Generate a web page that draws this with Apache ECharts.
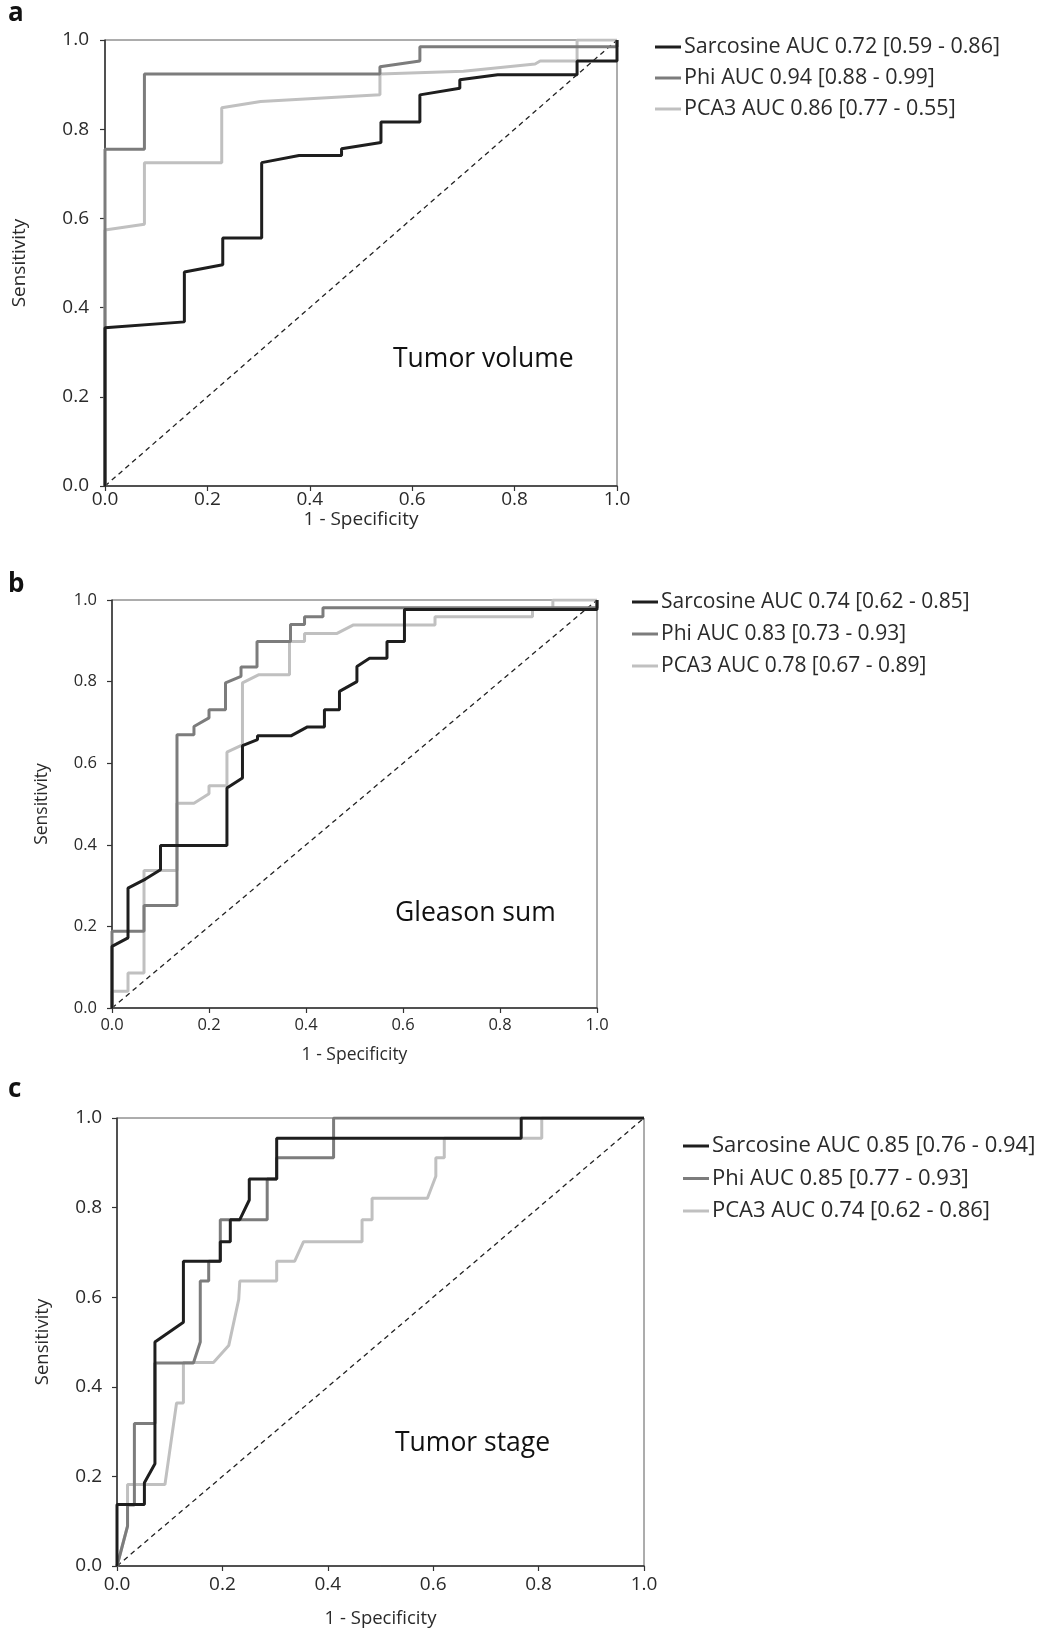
<!DOCTYPE html>
<html>
<head>
<meta charset="utf-8">
<script src="https://cdn.jsdelivr.net/npm/echarts@6/dist/echarts.min.js"></script>
<style>
  html, body { margin: 0; padding: 0; background: #fff; }
  #chart { width: 1048px; height: 1631px; }
</style>
</head>
<body>
<div id="chart"></div>
<script>
// tick labels shared by all axes
const tickLabels = ['0.0', '0.2', '0.4', '0.6', '0.8', '1.0']
const diagonal = [[0, 0], [1, 1]]

// a - Tumor volume
const legendA = ['Sarcosine AUC 0.72 [0.59 - 0.86]', 'Phi AUC 0.94 [0.88 - 0.99]', 'PCA3 AUC 0.86 [0.77 - 0.55]']
const sarcosineA = [[0, 0], [0, 0.355], [0.155, 0.368], [0.155, 0.48], [0.23, 0.496], [0.23, 0.556], [0.306, 0.556], [0.306, 0.725], [0.379, 0.741], [0.462, 0.741], [0.462, 0.756], [0.539, 0.77], [0.539, 0.816], [0.615, 0.816], [0.615, 0.877], [0.693, 0.892], [0.693, 0.911], [0.767, 0.922], [0.922, 0.922], [0.922, 0.953], [1, 0.953], [1, 1]]
const phiA = [[0, 0], [0, 0.755], [0.077, 0.755], [0.077, 0.924], [0.537, 0.924], [0.537, 0.94], [0.615, 0.953], [0.615, 0.985], [1, 0.985], [1, 1]]
const pca3A = [[0, 0], [0, 0.574], [0.077, 0.587], [0.077, 0.725], [0.228, 0.725], [0.228, 0.848], [0.304, 0.862], [0.537, 0.877], [0.537, 0.924], [0.7, 0.93], [0.84, 0.946], [0.85, 0.953], [0.922, 0.953], [0.922, 1], [1, 1]]

// b - Gleason sum
const legendB = ['Sarcosine AUC 0.74 [0.62 - 0.85]', 'Phi AUC 0.83 [0.73 - 0.93]', 'PCA3 AUC 0.78 [0.67 - 0.89]']
const sarcosineB = [[0, 0], [0, 0.151], [0.033, 0.172], [0.033, 0.294], [0.069, 0.316], [0.1, 0.339], [0.1, 0.398], [0.237, 0.398], [0.237, 0.539], [0.269, 0.564], [0.269, 0.643], [0.3, 0.658], [0.3, 0.667], [0.369, 0.667], [0.403, 0.689], [0.438, 0.689], [0.438, 0.731], [0.469, 0.731], [0.469, 0.776], [0.505, 0.8], [0.505, 0.837], [0.531, 0.857], [0.567, 0.857], [0.567, 0.898], [0.603, 0.898], [0.603, 0.977], [1, 0.977], [1, 1]]
const phiB = [[0, 0], [0, 0.188], [0.066, 0.188], [0.066, 0.251], [0.134, 0.251], [0.134, 0.67], [0.169, 0.67], [0.169, 0.69], [0.2, 0.711], [0.2, 0.731], [0.234, 0.731], [0.234, 0.797], [0.266, 0.813], [0.266, 0.836], [0.299, 0.836], [0.299, 0.898], [0.368, 0.898], [0.368, 0.94], [0.397, 0.94], [0.397, 0.959], [0.435, 0.959], [0.435, 0.981], [1, 0.981], [1, 1]]
const pca3B = [[0, 0], [0, 0.041], [0.033, 0.041], [0.033, 0.086], [0.066, 0.086], [0.066, 0.337], [0.134, 0.337], [0.134, 0.502], [0.169, 0.502], [0.2, 0.525], [0.2, 0.545], [0.237, 0.545], [0.237, 0.627], [0.269, 0.645], [0.269, 0.797], [0.303, 0.817], [0.366, 0.817], [0.366, 0.898], [0.397, 0.898], [0.397, 0.918], [0.464, 0.918], [0.498, 0.939], [0.666, 0.939], [0.666, 0.959], [0.867, 0.959], [0.867, 0.977], [0.909, 0.977], [0.909, 1], [1, 1]]

// c - Tumor stage
const legendC = ['Sarcosine AUC 0.85 [0.76 - 0.94]', 'Phi AUC 0.85 [0.77 - 0.93]', 'PCA3 AUC 0.74 [0.62 - 0.86]']
const sarcosineC = [[0, 0], [0, 0.137], [0.052, 0.137], [0.052, 0.186], [0.072, 0.228], [0.072, 0.5], [0.126, 0.544], [0.126, 0.68], [0.196, 0.68], [0.196, 0.724], [0.215, 0.724], [0.215, 0.773], [0.233, 0.773], [0.251, 0.817], [0.251, 0.864], [0.303, 0.864], [0.303, 0.955], [0.767, 0.955], [0.767, 1], [1, 1]]
const phiC = [[0, 0], [0.02, 0.089], [0.02, 0.136], [0.033, 0.136], [0.033, 0.318], [0.072, 0.318], [0.072, 0.453], [0.145, 0.453], [0.158, 0.5], [0.158, 0.636], [0.174, 0.636], [0.174, 0.68], [0.196, 0.68], [0.196, 0.773], [0.285, 0.773], [0.285, 0.864], [0.303, 0.864], [0.303, 0.911], [0.411, 0.911], [0.411, 1], [1, 1]]
const pca3C = [[0, 0], [0.02, 0.089], [0.02, 0.182], [0.091, 0.182], [0.113, 0.364], [0.126, 0.364], [0.126, 0.454], [0.183, 0.454], [0.212, 0.492], [0.231, 0.595], [0.233, 0.636], [0.303, 0.636], [0.303, 0.68], [0.337, 0.68], [0.354, 0.724], [0.465, 0.724], [0.465, 0.773], [0.484, 0.773], [0.484, 0.821], [0.589, 0.821], [0.605, 0.87], [0.605, 0.911], [0.621, 0.911], [0.621, 0.955], [0.806, 0.955], [0.806, 1], [1, 1]]

const colors = ['#1e1e1e', '#7c7c7c', '#c0c0c0']
const font = 'Open Sans'

const panels = [
  {
    grid: { left: 105, top: 40, width: 512, height: 446 },
    legend: legendA, curves: [sarcosineA, phiA, pca3A],
    legendPos: { left: 655, top: 36 }, legendSize: 21.5, legendGap: 9,
    tickSize: 19, nameSize: 19, labelMarginX: 4, labelMarginY: 16, nameGapX: 23, nameGapY: 76
  },
  {
    grid: { left: 112, top: 600, width: 485, height: 408 },
    legend: legendB, curves: [sarcosineB, phiB, pca3B],
    legendPos: { left: 632, top: 591 }, legendSize: 21, legendGap: 10,
    tickSize: 16.5, nameSize: 17.5, labelMarginX: 9, labelMarginY: 15, nameGapX: 38, nameGapY: 61
  },
  {
    grid: { left: 117, top: 1118, width: 527, height: 448 },
    legend: legendC, curves: [sarcosineC, phiC, pca3C],
    legendPos: { left: 683, top: 1135 }, legendSize: 22, legendGap: 10.5,
    tickSize: 19, nameSize: 18.5, labelMarginX: 9, labelMarginY: 15, nameGapX: 43, nameGapY: 65
  }
]

const grids = []
const xAxes = []
const yAxes = []
const legends = []
const series = []

panels.forEach((p, idx) => {
  grids.push(Object.assign({ show: true, borderColor: '#5a5a5a', borderWidth: 1, backgroundColor: 'transparent' }, p.grid))
  const axisBase = {
    type: 'value',
    gridIndex: idx,
    min: 0,
    max: 1,
    interval: 0.2,
    splitLine: { show: false },
    axisLine: { show: true, onZero: false, lineStyle: { color: '#333', width: 1.5 } },
    axisTick: { show: true, length: 5, lineStyle: { color: '#333', width: 1.2 } },
    nameLocation: 'middle',
    nameTextStyle: { fontFamily: font, fontSize: p.nameSize, color: '#2a2a2a' }
  }
  const label = margin => ({
    fontFamily: font,
    fontSize: p.tickSize,
    color: '#2a2a2a',
    margin: margin,
    formatter: v => tickLabels[Math.round(v * 5)]
  })
  xAxes.push(Object.assign({}, axisBase, {
    name: '1 - Specificity',
    nameGap: p.nameGapX,
    axisLabel: label(p.labelMarginX)
  }))
  yAxes.push(Object.assign({}, axisBase, {
    name: 'Sensitivity',
    nameGap: p.nameGapY,
    axisLabel: label(p.labelMarginY)
  }))
  legends.push({
    data: p.legend,
    orient: 'vertical',
    left: p.legendPos.left,
    top: p.legendPos.top,
    padding: 0,
    icon: 'rect',
    itemWidth: 26,
    itemHeight: 3,
    itemGap: p.legendGap,
    selectedMode: false,
    textStyle: { fontFamily: font, fontSize: p.legendSize, color: '#2a2a2a', lineHeight: 22, padding: [0, 0, 0, -2] }
  })
  series.push({
    type: 'line',
    xAxisIndex: idx,
    yAxisIndex: idx,
    data: diagonal,
    symbol: 'none',
    silent: true,
    lineStyle: { color: '#222', width: 1.3, type: [5, 4] },
    z: 2
  })
  p.curves.forEach((d, i) => {
    series.push({
      name: p.legend[i],
      type: 'line',
      xAxisIndex: idx,
      yAxisIndex: idx,
      data: d,
      symbol: 'none',
      lineStyle: { color: colors[i], width: 3 },
      itemStyle: { color: colors[i] },
      z: 5 - i
    })
  })
})

const chart = echarts.init(document.getElementById('chart'))
chart.setOption({
  backgroundColor: '#fff',
  animation: false,
  grid: grids,
  xAxis: xAxes,
  yAxis: yAxes,
  legend: legends,
  series: series,
  graphic: [
    { type: 'text', left: 8, top: 1, style: { text: 'a', font: 'bold 26px "Open Sans"', fill: '#111' } },
    { type: 'text', left: 8, top: 572, style: { text: 'b', font: 'bold 26px "Open Sans"', fill: '#111' } },
    { type: 'text', left: 8, top: 1077, style: { text: 'c', font: 'bold 26px "Open Sans"', fill: '#111' } },
    { type: 'text', left: 393, top: 346, style: { text: 'Tumor volume', font: '26.5px "Open Sans"', fill: '#111' } },
    { type: 'text', left: 395, top: 900, style: { text: 'Gleason sum', font: '26.5px "Open Sans"', fill: '#111' } },
    { type: 'text', left: 395, top: 1430, style: { text: 'Tumor stage', font: '26.5px "Open Sans"', fill: '#111' } }
  ]
})
</script>
</body>
</html>
